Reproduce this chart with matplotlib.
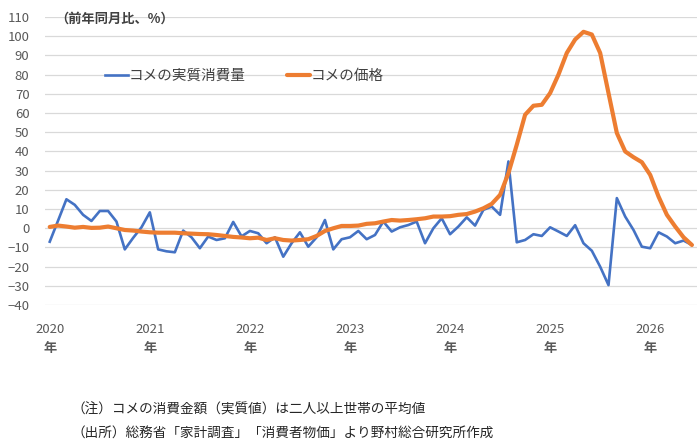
import matplotlib
matplotlib.use('Agg')
import matplotlib.pyplot as plt
from matplotlib.transforms import blended_transform_factory

plt.rcParams['font.family'] = ['Noto Sans CJK JP', 'DejaVu Sans']

# 2020年1月～2026年6月（月次）
years = ['2020', '2021', '2022', '2023', '2024', '2025', '2026']

consumption = [
    -7.0, 4.0, 15.1, 12.2, 7.0, 3.8, 9.0, 9.0, 3.5, -11.0, -5.0, 0.5,
    8.3, -11.0, -12.0, -12.5, -1.2, -4.7, -10.4, -4.3, -6.1, -5.2, 3.3, -4.2,
    -1.4, -2.6, -7.8, -4.7, -14.8, -7.8, -2.1, -9.6, -4.7, 4.3, -11.0, -5.7,
    -4.7, -1.4, -5.7, -3.5, 3.5, -1.7, 0.5, 1.7, 3.5, -7.8, 0.0, 5.2,
    -3.1, 0.9, 5.7, 1.4, 9.6, 11.3, 7.0, 34.8, -7.3, -6.1, -3.1, -4.0,
    0.5, -1.7, -4.0, 1.6, -7.8, -11.7, -20.0, -29.6, 15.7, 6.1, -0.9, -9.6,
    -10.4, -2.1, -4.3, -7.8, -6.4, -8.7,
]

price = [
    0.7, 1.4, 0.9, 0.3, 0.7, 0.2, 0.3, 0.9, 0.0, -0.9, -1.2, -1.7,
    -2.1, -2.3, -2.3, -2.3, -2.6, -2.8, -3.0, -3.1, -3.5, -4.0, -4.5, -4.8,
    -5.2, -4.9, -6.1, -5.2, -6.1, -6.4, -6.1, -5.7, -4.0, -1.4, 0.0, 1.2,
    1.2, 1.4, 2.3, 2.6, 3.5, 4.3, 4.0, 4.3, 4.7, 5.2, 6.1, 6.1,
    6.3, 7.0, 7.4, 8.7, 10.4, 12.7, 17.4, 28.7, 43.5, 59.1, 63.8, 64.3,
    70.4, 80.0, 91.3, 98.3, 102.3, 100.9, 91.3, 70.4, 49.6, 40.0, 37.0, 34.4,
    27.8, 16.5, 7.0, 0.9, -4.7, -8.7,
]

x = list(range(len(price)))
year_pos = [12 * i for i in range(len(years))]

fig = plt.figure(figsize=(6.99, 4.48), dpi=100)
ax = fig.add_axes([0.064, 0.319, 0.933, 0.643])

ax.plot(x, consumption, color='#4472C4', lw=1.9, solid_joinstyle='round',
        label='コメの実質消費量', zorder=3)
ax.plot(x, price, color='#ED7D31', lw=3.0, solid_joinstyle='round',
        solid_capstyle='round', label='コメの価格', zorder=4)

ax.set_ylim(-40, 110)
ax.set_yticks(range(-40, 111, 10))
ax.set_xlim(-0.6, 77.6)
ax.set_xticks(year_pos)
ax.set_xticklabels(years)

ax.grid(axis='y', color='#d9d9d9', lw=0.9)
ax.set_axisbelow(True)
for s in ax.spines.values():
    s.set_visible(False)
ax.tick_params(axis='both', length=0, labelsize=9.5, colors='#595959')
ax.tick_params(axis='y', pad=11)
ax.tick_params(axis='x', pad=13)

# 年（太字）
trans = blended_transform_factory(ax.transData, fig.transFigure)
for p in year_pos:
    ax.text(p, 1 - 348 / 448, '年', transform=trans, ha='center', va='center',
            fontsize=9.5, fontweight='bold', color='#595959')

ax.text(0.016, 0.995, '（前年同月比、%）', transform=ax.transAxes, fontsize=9.5,
        fontweight='bold', color='#404040', va='center', ha='left')

ax.legend(loc='center left', bbox_to_anchor=(0.072, 0.795), ncol=2, frameon=False,
          fontsize=10.5, handlelength=1.6, handletextpad=0.05, columnspacing=2.8,
          labelcolor='#404040')

fig.text(0.103, 0.085, '（注）コメの消費金額（実質値）は二人以上世帯の平均値',
         fontsize=9.8, color='#262626', va='center')
fig.text(0.103, 0.033, '（出所）総務省「家計調査」「消費者物価」より野村総合研究所作成',
         fontsize=9.8, color='#262626', va='center')

fig.savefig('out.png', dpi=100)
